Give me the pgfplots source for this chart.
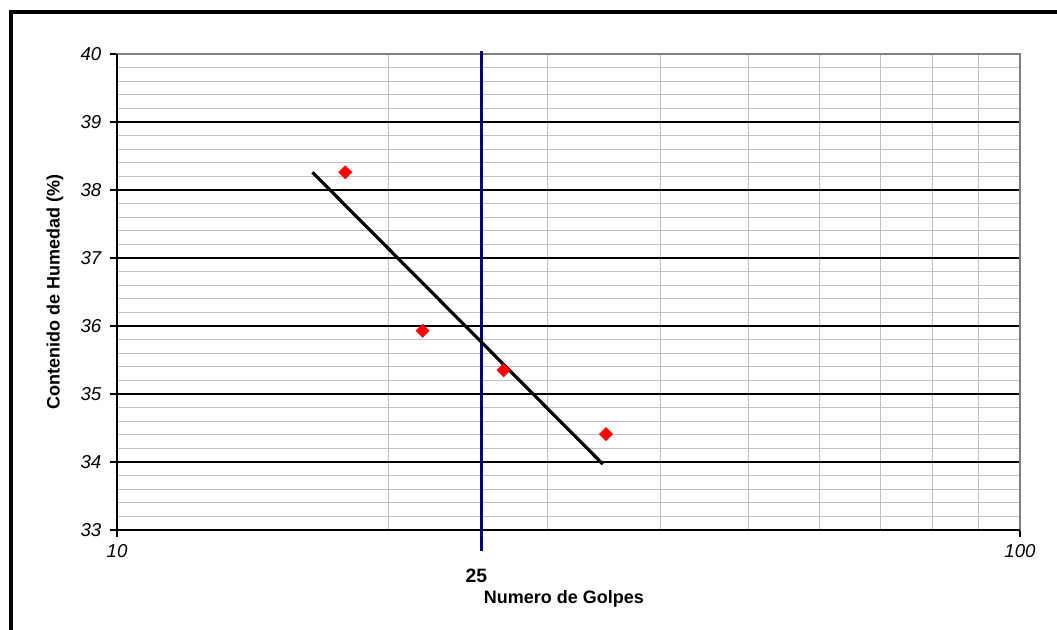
\documentclass[border=0pt]{standalone}
\usepackage{pgfplots}
\pgfplotsset{compat=1.18}
\usepackage{fontspec}
\setmainfont{Liberation Sans}
\definecolor{gridgray}{RGB}{192,192,192}
\definecolor{bordergray}{RGB}{128,128,128}
\definecolor{navyline}{RGB}{0,0,128}
\begin{document}
\begin{tikzpicture}
\path[use as bounding box] (0,0) rectangle (792.75pt,472.5pt);
\draw[line width=3pt,black] (6.75pt,463.5pt) -- (792.75pt,463.5pt);
\draw[line width=3pt,black] (8.25pt,465pt) -- (8.25pt,0pt);
\begin{axis}[
  at={(87.75pt,75pt)}, anchor=south west,
  scale only axis, width=677.25pt, height=357pt,
  xmode=log, xmin=10, xmax=100, ymin=33, ymax=40,
  xtick={10,100}, xticklabels={10,100},
  ytick={33,34,35,36,37,38,39,40},
  yticklabels={33,34,35,36,37,38,39,40},
  minor y tick num=4,
  ymajorgrids, yminorgrids, xminorgrids,
  major grid style={black, line width=0.8pt},
  minor grid style={gridgray, line width=0.9pt},
  tick align=outside, xtick pos=bottom, ytick pos=left,
  major tick length=5.25pt, minor tick length=0pt,
  tick style={black, line width=0.8pt},
  axis line style={bordergray, line width=1.5pt},
  ticklabel style={font=\fontsize{14}{16}\selectfont\itshape},
  xticklabel style={yshift=-2pt},
  yticklabel style={xshift=-3pt},
  xlabel={Numero de Golpes},
  ylabel={Contenido de Humedad (\%)},
  label style={font=\fontsize{13.5}{15}\selectfont\bfseries},
  xlabel style={at={(axis description cs:0.495,-0.1450)}, anchor=center},
  ylabel style={at={(axis description cs:-0.0687,0.5)}, anchor=center},
  clip=false,
]
\draw[black, line width=1.2pt] (rel axis cs:0,1) -- (rel axis cs:0,0) -- (rel axis cs:1,0);
\addplot[navyline, line width=2.3pt] coordinates {(25.35,32.69) (25.35,40.05)};
\addplot[black, line width=2.4pt] coordinates {(16.46,38.26) (34.51,33.97)};
\addplot[only marks, mark=square*, mark size=3.5pt, red,
  every mark/.append style={rotate=45, fill=red, draw=red}]
  coordinates {(17.9,38.26) (21.8,35.93) (26.8,35.35) (34.8,34.41)};
\node[font=\fontsize{14.5}{16}\selectfont\bfseries] at (axis cs:25.0,32.32) {25};
\end{axis}
\end{tikzpicture}
\end{document}
